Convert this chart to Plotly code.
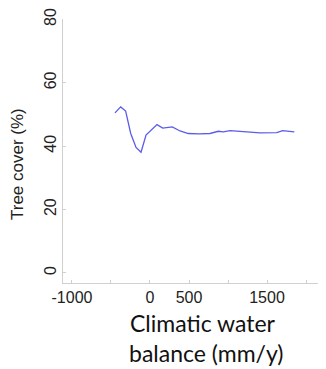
import plotly.graph_objects as go

water_balance = [-449, -376, -312, -247, -179, -115, -51, 90, 163, 286, 385, 491,
                 630, 769, 876, 940, 1026, 1154, 1280, 1410, 1624, 1701, 1850]
tree_cover = [50.5, 52.4, 51.1, 44.0, 39.6, 38.1, 43.5, 46.8, 45.7, 46.1, 44.8, 44.0,
              43.9, 44.0, 44.7, 44.5, 44.9, 44.7, 44.4, 44.2, 44.3, 44.9, 44.5]

x_tickvals = [-1000, -500, 0, 500, 1000, 1500, 2000]
x_ticktext = ["-1000", "", "0", "500", "", "1500", ""]
y_tickvals = [0, 20, 40, 60, 80]
y_ticktext = ["0", "20", "40", "60", "80"]

fig = go.Figure()
fig.add_trace(go.Scatter(
    x=water_balance, y=tree_cover, mode="lines",
    line=dict(color="#5c5ce8", width=1.3), showlegend=False,
))

axis_common = dict(
    showgrid=False, zeroline=False, showline=True, linecolor="#d0d0d0", linewidth=1,
    ticks="inside", ticklen=3, tickcolor="#d0d0d0", tickwidth=1,
    tickfont=dict(family="Liberation Sans, Arial, sans-serif", size=16, color="#222222"),
)

fig.update_layout(
    width=318, height=361,
    margin=dict(l=55, r=0, t=11, b=86),
    paper_bgcolor="white", plot_bgcolor="white",
    xaxis=dict(range=[-1115, 2256], tickmode="array", tickvals=x_tickvals,
               ticktext=x_ticktext, **axis_common),
    yaxis=dict(range=[-3.2, 80.15], tickmode="array", tickvals=y_tickvals,
               ticktext=y_ticktext, tickangle=-90, ticklabelstandoff=0, **axis_common),
    annotations=[
        dict(text="Tree cover (%)", xref="paper", yref="paper", x=-0.171, y=0.4508,
             xanchor="center", yanchor="middle", textangle=-90, showarrow=False,
             font=dict(family="Liberation Sans, Arial, sans-serif", size=17, color="#222222")),
        dict(text="Climatic water", xref="paper", yref="paper", x=0.532, y=-0.1515,
             xanchor="center", yanchor="middle", showarrow=False,
             font=dict(family="Lato, sans-serif", size=23, color="#111111")),
        dict(text="balance (mm/y)", xref="paper", yref="paper", x=0.545, y=-0.265,
             xanchor="center", yanchor="middle", showarrow=False,
             font=dict(family="Lato, sans-serif", size=23, color="#111111")),
    ],
)

fig.write_html("out.html")
